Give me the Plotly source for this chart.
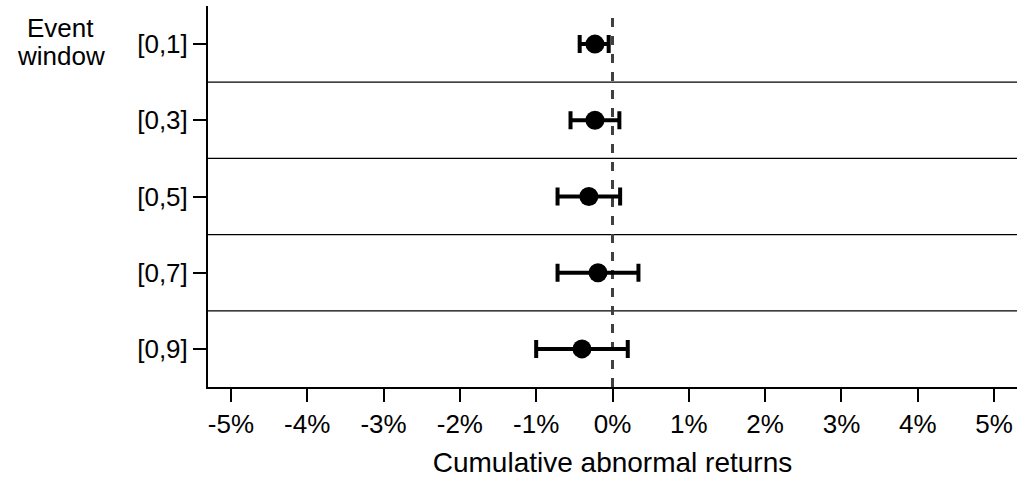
import plotly.graph_objects as go

categories = ["[0,1]", "[0,3]", "[0,5]", "[0,7]", "[0,9]"]
car = [-0.23, -0.23, -0.31, -0.19, -0.40]
ci_lower = [-0.43, -0.55, -0.72, -0.72, -1.00]
ci_upper = [-0.05, 0.09, 0.10, 0.34, 0.20]
x_ticks = [-5, -4, -3, -2, -1, 0, 1, 2, 3, 4, 5]
x_ticklabels = ["-5%", "-4%", "-3%", "-2%", "-1%", "0%", "1%", "2%", "3%", "4%", "5%"]

ypos = list(range(len(categories)))
err_plus = [u - c for u, c in zip(ci_upper, car)]
err_minus = [c - l for c, l in zip(car, ci_lower)]

FONT = "Arial, Liberation Sans, sans-serif"

fig = go.Figure()
fig.add_trace(go.Scatter(
    x=car, y=ypos, mode="markers",
    marker=dict(size=19, color="black"),
    error_x=dict(type="data", symmetric=False, array=err_plus, arrayminus=err_minus,
                 color="black", thickness=4, width=9),
    showlegend=False, hoverinfo="skip",
))

shapes = []
for k in range(len(categories) - 1):
    shapes.append(dict(type="line", xref="paper", yref="y", x0=0, x1=1, y0=k + 0.5, y1=k + 0.5,
                       line=dict(color="black", width=1.2), layer="below"))
shapes.append(dict(type="line", xref="x", yref="paper", x0=0, x1=0, y0=0, y1=0.985,
                   line=dict(color="#404040", width=3, dash="dash"), layer="below"))

fig.update_layout(
    width=1018, height=481,
    margin=dict(l=208, r=1, t=6, b=94),
    paper_bgcolor="white", plot_bgcolor="white",
    font=dict(family=FONT, size=26, color="black"),
    shapes=shapes,
    xaxis=dict(range=[-5.3, 5.3], tickvals=x_ticks, ticktext=x_ticklabels,
               showline=True, linecolor="black", linewidth=2,
               ticks="outside", ticklen=13, tickwidth=2, tickcolor="black",
               showgrid=False, zeroline=False,
               tickfont=dict(size=26),
               title=dict(text="Cumulative abnormal returns", font=dict(size=28), standoff=14)),
    yaxis=dict(range=[4.5, -0.5], tickvals=ypos, ticktext=categories,
               showline=True, linecolor="black", linewidth=2,
               ticks="outside", ticklen=13, tickwidth=2, tickcolor="black",
               showgrid=False, zeroline=False, tickfont=dict(size=26)),
    annotations=[
        dict(text="Event", xref="paper", yref="paper", x=-0.182, y=0.942,
             xanchor="center", yanchor="middle", showarrow=False, font=dict(size=26)),
        dict(text="window", xref="paper", yref="paper", x=-0.182, y=0.868,
             xanchor="center", yanchor="middle", showarrow=False, font=dict(size=26)),
    ],
)

fig.write_html("out.html", config={"displayModeBar": False})

# remove the browser's default page margin so the figure sits at the window's corner
with open("out.html", "r", encoding="utf-8") as f:
    html = f.read()
html = html.replace("<body>", '<body style="margin:0;padding:0;overflow:hidden">', 1)
with open("out.html", "w", encoding="utf-8") as f:
    f.write(html)
